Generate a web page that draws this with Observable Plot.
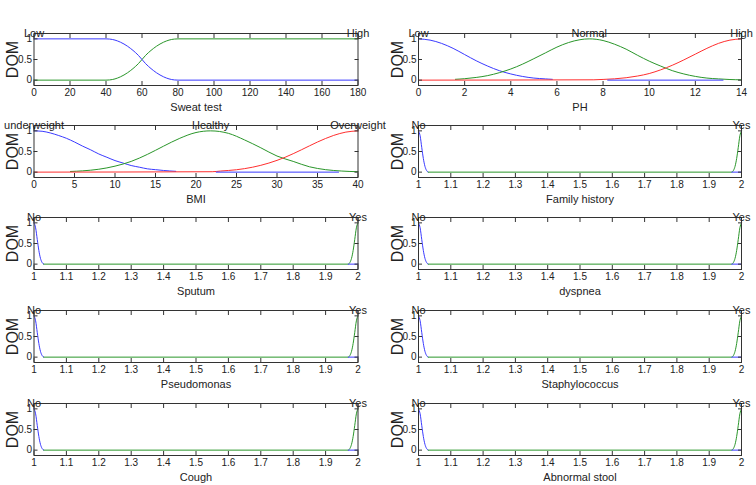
<!DOCTYPE html>
<html>
<head>
<meta charset="utf-8">
<script src="https://cdn.jsdelivr.net/npm/d3@7"></script>
<script src="https://cdn.jsdelivr.net/npm/@observablehq/plot@0.6"></script>
<style>
  html, body { margin: 0; padding: 0; background: #fff; }
  #chart { position: relative; width: 756px; height: 485px; overflow: hidden; background: #fff; }
  #chart svg { position: absolute; }
</style>
</head>
<body>
<div id="chart"></div>
<script>
// ---------- Tick labels ----------
const sweatTicks = [0, 20, 40, 60, 80, 100, 120, 140, 160, 180];
const phTicks = [0, 2, 4, 6, 8, 10, 12, 14];
const bmiTicks = [0, 5, 10, 15, 20, 25, 30, 35, 40];
const binTicks = [1, 1.1, 1.2, 1.3, 1.4, 1.5, 1.6, 1.7, 1.8, 1.9, 2];
const domTicks = [0, 0.5, 1];

// ---------- Sweat test ----------
const sweatNames = ["Low", "High"];
const sweatCenters = [0, 180];
const sweatLowX  = [0, 40, 42, 45, 48, 50, 52, 55, 58, 60, 62, 65, 68, 70, 72, 75, 78, 80, 180];
const sweatLowY  = [1, 1, 0.995, 0.97, 0.92, 0.875, 0.82, 0.72, 0.6, 0.5, 0.4, 0.28, 0.18, 0.125, 0.08, 0.03, 0.005, 0, 0];
const sweatHighX = [0, 40, 42, 45, 48, 50, 52, 55, 58, 60, 62, 65, 68, 70, 72, 75, 78, 80, 180];
const sweatHighY = [0, 0, 0.005, 0.03, 0.08, 0.125, 0.18, 0.28, 0.4, 0.5, 0.6, 0.72, 0.82, 0.875, 0.92, 0.97, 0.995, 1, 1];

// ---------- PH ----------
const phNames = ["Low", "Normal", "High"];
const phCenters = [0, 7.4, 14];
const phLowX  = [0, 0.5, 1, 1.5, 2, 2.5, 3, 3.5, 4, 4.5, 5, 5.5, 5.8];
const phLowY  = [1, 0.97, 0.89, 0.77, 0.62, 0.47, 0.34, 0.23, 0.15, 0.09, 0.05, 0.03, 0.02];
const phLowTailX = [8.2, 13.2];
const phLowTailY = [0, 0];
const phNormX = [1.6, 2, 2.5, 3, 3.5, 4, 4.5, 5, 5.5, 6, 6.5, 7, 7.4, 8, 8.5, 9, 9.5, 10, 10.5, 11, 11.5, 12, 12.5, 13, 13.5, 14];
const phNormY = [0.02, 0.035, 0.065, 0.11, 0.18, 0.27, 0.385, 0.52, 0.66, 0.8, 0.91, 0.98, 1, 0.96, 0.87, 0.75, 0.6, 0.46, 0.34, 0.23, 0.15, 0.09, 0.05, 0.03, 0.015, 0.007];
const phHighX = [0, 7.6, 8, 8.5, 9, 9.5, 10, 10.5, 11, 11.5, 12, 12.5, 13, 13.5, 14];
const phHighY = [0, 0.008, 0.017, 0.032, 0.058, 0.1, 0.16, 0.25, 0.36, 0.49, 0.63, 0.77, 0.89, 0.97, 1];

// ---------- BMI ----------
const bmiNames = ["underweight", "Healthy", "Overweight"];
const bmiCenters = [0, 21.8, 40];
const bmiUnderX = [0, 1, 2, 3, 4, 5, 6, 7, 8, 9, 10, 11, 12, 13, 14, 15, 16, 17.5];
const bmiUnderY = [1, 0.99, 0.95, 0.89, 0.82, 0.73, 0.63, 0.54, 0.44, 0.36, 0.28, 0.22, 0.16, 0.12, 0.08, 0.06, 0.04, 0.02];
const bmiUnderTailX = [22.5, 37.6];
const bmiUnderTailY = [0, 0];
const bmiHealthyX = [4.5, 6, 8, 10, 12, 14, 16, 18, 20, 21.8, 24, 26, 28, 30, 32, 34, 36, 38, 40];
const bmiHealthyY = [0.016, 0.031, 0.07, 0.145, 0.26, 0.43, 0.63, 0.82, 0.96, 1, 0.94, 0.78, 0.59, 0.39, 0.26, 0.13, 0.06, 0.026, 0.01];
const bmiOverX = [0, 22, 23, 25, 27, 29, 31, 33, 35, 37, 38.5, 40];
const bmiOverY = [0, 0.01, 0.026, 0.058, 0.12, 0.22, 0.36, 0.54, 0.73, 0.89, 0.97, 1];

// ---------- Binary (No / Yes) inputs ----------
const binNames = ["No", "Yes"];
const binCenters = [1, 2];
const binNoX = [1, 1.005, 1.01, 1.015, 1.02, 1.025, 1.03];
const binNoY = [1, 0.88, 0.6, 0.33, 0.14, 0.04, 0];
const binNoTailX = [1.97, 2];
const binNoTailY = [0, 0];
const binYesX = [1.03, 1.97, 1.975, 1.98, 1.985, 1.99, 1.995, 2];
const binYesY = [0, 0, 0.04, 0.14, 0.33, 0.6, 0.88, 1];

const binaryLabels = ["Family history", "Sputum", "dyspnea", "Pseudomonas", "Staphylococcus", "Cough", "Abnormal stool"];

// ---------- colours ----------
const BLUE = "#3a3aff", GREEN = "#2a962a", RED = "#ff2e2e", FRAME = "#333";

function series(xs, ys, color) {
  return { pts: xs.map((x, i) => ({ x, y: ys[i] })), color };
}

function panel({ domain, ticks, lines, names, centers, xlabel, col }) {
  const ml = col === 0 ? 33.5 : 40;
  const mr = col === 0 ? 20.5 : 15;
  const fmt = d => String(+d.toFixed(2));
  return Plot.plot({
    width: 378,
    height: 104,
    marginLeft: ml,
    marginRight: mr,
    marginTop: 20,
    marginBottom: 32,
    x: { domain, label: null },
    y: { domain: [-0.13, 1.13], label: null },
    style: { fontFamily: "'Liberation Sans', Arial, sans-serif", fontSize: "10px", color: "#222", background: "transparent", overflow: "visible" },
    marks: [
      ...lines.map(s => Plot.line(s.pts, { x: "x", y: "y", stroke: s.color, strokeWidth: 1, curve: "monotone-x" })),
      Plot.axisX({ ticks, anchor: "bottom", tickSize: -4, tickPadding: 7, tickFormat: fmt, label: null, stroke: FRAME }),
      Plot.axisX({ ticks, anchor: "top", tickSize: -4, tickFormat: () => "", label: null, stroke: FRAME }),
      Plot.axisY({ ticks: domTicks, anchor: "left", tickSize: -4, tickPadding: 6, tickFormat: fmt, label: null, stroke: FRAME }),
      Plot.axisY({ ticks: domTicks, anchor: "right", tickSize: -4, tickFormat: () => "", label: null, stroke: FRAME }),
      Plot.frame({ stroke: FRAME, strokeWidth: 1 }),
      Plot.text(names, { x: (d, i) => centers[i], frameAnchor: "top", text: d => d, fontSize: 11, lineAnchor: "middle", textAnchor: "middle", fill: "#222" }),
      Plot.text([xlabel], { frameAnchor: "bottom", text: d => d, dy: 22, lineAnchor: "middle", fontSize: 11, fill: "#222" }),
      Plot.text(["DOM"], { frameAnchor: "left", text: d => d, rotate: -90, dx: -21, textAnchor: "middle", lineAnchor: "middle", fontSize: 16, fill: "#222" })
    ]
  });
}

const binLines = () => [
  series(binNoX, binNoY, BLUE),
  series(binYesX, binYesY, GREEN),
  series(binNoTailX, binNoTailY, BLUE)
];

const panels = [
  { col: 0, row: 0, domain: [0, 180], ticks: sweatTicks, names: sweatNames, centers: sweatCenters, xlabel: "Sweat test",
    lines: [series(sweatHighX, sweatHighY, GREEN), series(sweatLowX, sweatLowY, BLUE)] },
  { col: 1, row: 0, domain: [0, 14], ticks: phTicks, names: phNames, centers: phCenters, xlabel: "PH",
    lines: [series(phLowX, phLowY, BLUE), series(phNormX, phNormY, GREEN), series(phHighX, phHighY, RED), series(phLowTailX, phLowTailY, BLUE)] },
  { col: 0, row: 1, domain: [0, 40], ticks: bmiTicks, names: bmiNames, centers: bmiCenters, xlabel: "BMI",
    lines: [series(bmiUnderX, bmiUnderY, BLUE), series(bmiHealthyX, bmiHealthyY, GREEN), series(bmiOverX, bmiOverY, RED), series(bmiUnderTailX, bmiUnderTailY, BLUE)] },
  { col: 1, row: 1, xlabel: binaryLabels[0] },
  { col: 0, row: 2, xlabel: binaryLabels[1] },
  { col: 1, row: 2, xlabel: binaryLabels[2] },
  { col: 0, row: 3, xlabel: binaryLabels[3] },
  { col: 1, row: 3, xlabel: binaryLabels[4] },
  { col: 0, row: 4, xlabel: binaryLabels[5] },
  { col: 1, row: 4, xlabel: binaryLabels[6] }
];

const frameTops = [33.3, 124.9, 217.3, 310, 402.6];
const chart = document.getElementById("chart");
for (const p of panels) {
  const cfg = p.domain ? p : { ...p, domain: [1, 2], ticks: binTicks, names: binNames, centers: binCenters, lines: binLines() };
  const svg = panel(cfg);
  svg.style.left = (p.col === 0 ? 0 : 378) + "px";
  svg.style.top = (frameTops[p.row] - 20) + "px";
  chart.appendChild(svg);
}
</script>
</body>
</html>
